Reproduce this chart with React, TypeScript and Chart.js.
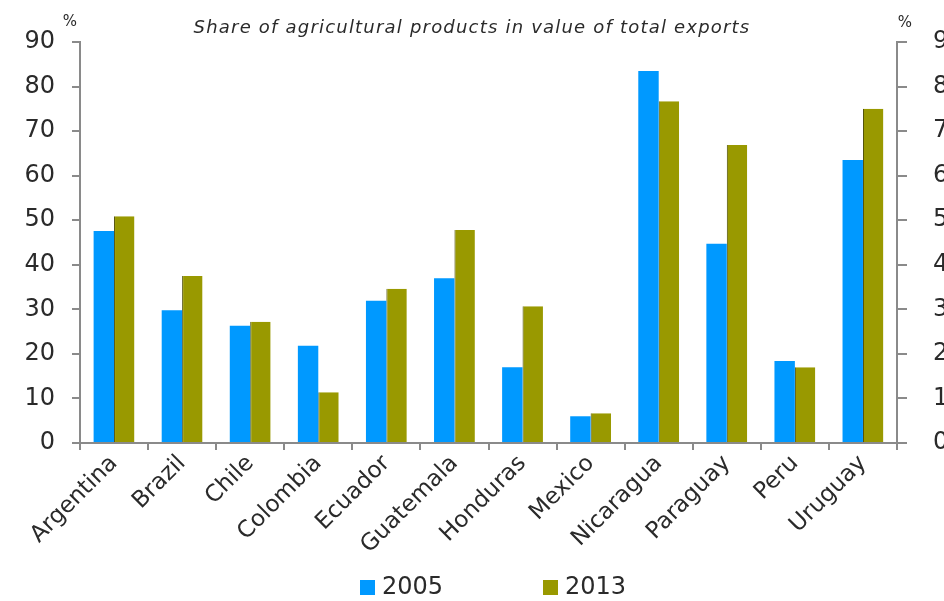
import React, { useEffect, useRef } from "react";
import { Chart, registerables } from "chart.js";

Chart.register(...registerables);

const categories = [
  "Argentina", "Brazil", "Chile", "Colombia", "Ecuador", "Guatemala",
  "Honduras", "Mexico", "Nicaragua", "Paraguay", "Peru", "Uruguay",
];
const values2005 = [47.6, 29.8, 26.3, 21.8, 31.9, 37.0, 17.0, 6.0, 83.5, 44.7, 18.4, 63.5];
const values2013 = [50.9, 37.5, 27.2, 11.4, 34.6, 47.8, 30.7, 6.7, 76.7, 66.9, 17.0, 75.0];
const seriesLabels = ["2005", "2013"];
const seriesColors = ["#0099ff", "#999900"];
const titleText = "Share of agricultural products in value of total exports";
const unitText = "%";

const FONT = "'DejaVu Sans', Verdana, sans-serif";
const TEXT_COLOR = "#2a2a2a";
const AXIS_COLOR = "#8a8a8a";

const overlayPlugin = {
  id: "overlay",
  afterDraw(chart: any) {
    const ctx = chart.ctx;
    const area = chart.chartArea;
    ctx.save();
    // title
    ctx.fillStyle = TEXT_COLOR;
    ctx.font = `italic 18px ${FONT}`;
    (ctx as any).letterSpacing = "1.2px";
    ctx.textAlign = "center";
    ctx.textBaseline = "middle";
    ctx.fillText(titleText, 472, 28);
    (ctx as any).letterSpacing = "0px";
    // unit markers
    ctx.font = `15px ${FONT}`;
    ctx.fillText(unitText, area.left - 10, 22);
    ctx.fillText(unitText, area.right + 8, 23);
    // legend
    const legendX = [360, 543];
    const legendY = 587;
    ctx.font = `24px ${FONT}`;
    ctx.textAlign = "left";
    chart.data.datasets.forEach((ds: any, i: number) => {
      ctx.fillStyle = ds.backgroundColor;
      ctx.fillRect(legendX[i], legendY - 7, 15, 15);
      ctx.fillStyle = TEXT_COLOR;
      ctx.fillText(ds.label, legendX[i] + 22, legendY + 1);
    });
    ctx.restore();
  },
};

export default function App() {
  const canvasRef = useRef<HTMLCanvasElement | null>(null);

  useEffect(() => {
    if (!canvasRef.current) return;
    const chart = new Chart(canvasRef.current, {
      type: "bar",
      data: {
        labels: categories,
        datasets: [
          {
            label: seriesLabels[0],
            data: values2005,
            backgroundColor: seriesColors[0],
            borderWidth: 0,
            yAxisID: "y",
          },
          {
            label: seriesLabels[1],
            data: values2013,
            backgroundColor: seriesColors[1],
            borderColor: "#4a4a00",
            borderWidth: { left: 1, right: 0, top: 0, bottom: 0 },
            borderSkipped: false,
            yAxisID: "y",
          },
        ],
      },
      options: {
        animation: false,
        responsive: true,
        maintainAspectRatio: false,
        layout: { padding: { top: 42, left: 0, right: 0, bottom: 0 } },
        datasets: { bar: { categoryPercentage: 0.6, barPercentage: 1.0 } },
        plugins: {
          legend: { display: false },
          title: { display: false },
          tooltip: { enabled: false },
        },
        scales: {
          x: {
            offset: true,
            grid: {
              offset: true,
              drawOnChartArea: false,
              drawTicks: true,
              tickLength: 7,
              color: AXIS_COLOR,
              lineWidth: 2,
            },
            border: { display: true, color: AXIS_COLOR, width: 2 },
            ticks: {
              minRotation: 45,
              maxRotation: 45,
              autoSkip: false,
              padding: 0,
              color: TEXT_COLOR,
              font: { family: FONT, size: 23 },
            },
            afterFit(scale: any) {
              scale.height = 601 - 443;
            },
          },
          y: {
            position: "left",
            min: 0,
            max: 90,
            ticks: {
              stepSize: 10,
              padding: 17,
              color: TEXT_COLOR,
              font: { family: FONT, size: 24 },
            },
            grid: {
              drawOnChartArea: false,
              drawTicks: true,
              tickLength: 8,
              color: AXIS_COLOR,
              lineWidth: 2,
            },
            border: { display: true, color: AXIS_COLOR, width: 2 },
            afterFit(scale: any) {
              scale.width = 80;
            },
          },
          y2: {
            position: "right",
            min: 0,
            max: 90,
            ticks: {
              stepSize: 10,
              padding: 26,
              color: TEXT_COLOR,
              font: { family: FONT, size: 24 },
            },
            grid: {
              drawOnChartArea: false,
              drawTicks: true,
              tickLength: 10,
              color: AXIS_COLOR,
              lineWidth: 2,
            },
            border: { display: true, color: AXIS_COLOR, width: 2 },
            afterFit(scale: any) {
              scale.width = 1000 - 897;
            },
          },
        },
      },
      plugins: [overlayPlugin],
    });
    return () => chart.destroy();
  }, []);

  return (
    <div
      style={{
        position: "fixed",
        left: 0,
        top: 0,
        width: 944,
        height: 601,
        overflow: "hidden",
        background: "#ffffff",
      }}
    >
      <div style={{ position: "relative", width: 1000, height: 601 }}>
        <canvas ref={canvasRef} />
      </div>
    </div>
  );
}
